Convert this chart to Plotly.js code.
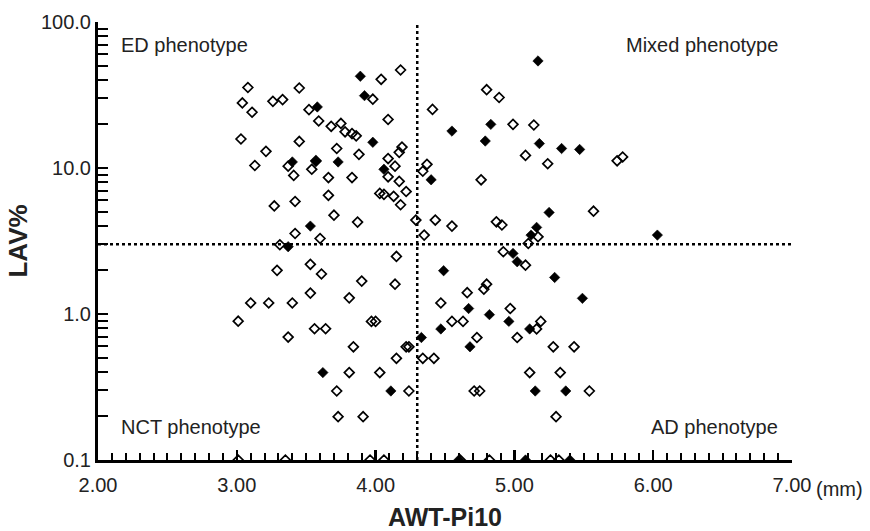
<!DOCTYPE html>
<html>
<head>
<meta charset="utf-8">
<script src="https://cdn.plot.ly/plotly-3.0.1.min.js"></script>
<style>html,body{margin:0;padding:0;background:#fff;}#chart{width:870px;height:531px;}</style>
</head>
<body>
<div id="chart"></div>
<script>
// Open diamonds: AWT-Pi10 (mm) and LAV%
const openX = [3.08,3.45,3.04,3.11,3.26,3.33,3.52,3.59,3.68,3.03,3.45,3.21,3.13,3.37,3.41,3.57,3.54,3.72,3.66,3.66,3.27,3.42,3.70,3.42,3.60,
  4.04,4.18,3.98,4.41,4.09,3.75,3.78,3.83,3.86,3.88,4.19,4.17,4.09,4.14,4.09,4.17,4.22,4.06,4.03,4.13,4.18,3.83,3.87,4.29,4.35,4.43,4.55,4.37,4.34,
  4.76,4.80,4.89,4.99,5.14,5.08,5.24,4.87,4.91,5.17,5.74,5.78,5.57,
  3.31,3.53,3.29,3.61,3.53,3.10,3.23,3.40,3.01,3.56,3.64,3.37,3.72,3.73,3.01,3.35,
  5.10,4.92,5.08,4.15,3.90,4.14,3.81,4.66,4.80,4.78,4.47,4.97,3.97,4.00,4.55,4.63,5.16,5.19,3.84,4.22,4.24,4.73,5.02,5.28,
  4.15,4.34,4.42,3.81,4.03,5.11,5.33,4.24,4.71,4.75,3.91,5.30,3.96,4.06,4.61,4.82,5.26,5.32,5.43,5.54];
const openY = [35.6,35.3,27.9,24.1,28.6,29.4,25.1,21.0,19.3,15.8,15.2,13.0,10.4,10.3,8.9,11.2,9.8,13.6,8.6,6.5,5.5,5.9,4.75,3.56,3.29,
  40.5,46.9,29.6,25.2,21.5,20.2,17.7,17.2,16.6,12.4,13.9,12.8,11.6,10.3,8.7,8.1,6.9,6.6,6.7,6.4,5.6,8.6,4.26,4.4,3.47,4.4,4.0,10.6,9.5,
  8.3,34.4,30.4,19.9,19.7,12.2,10.7,4.28,4.07,3.38,11.2,11.9,5.06,
  2.98,2.19,1.99,1.88,1.39,1.19,1.19,1.19,0.893,0.793,0.793,0.695,0.297,0.198,0.1,0.1,
  3.04,2.67,2.16,2.48,1.68,1.6,1.29,1.4,1.6,1.48,1.19,1.09,0.89,0.89,0.89,0.89,0.79,0.89,0.596,0.596,0.596,0.69,0.69,0.596,
  0.497,0.497,0.497,0.397,0.397,0.397,0.397,0.297,0.297,0.297,0.198,0.198,0.1,0.1,0.1,0.1,0.1,0.1,0.596,0.297];
// Filled diamonds
const filledX = [3.58,3.40,3.57,3.73,3.53,3.89,3.92,3.98,4.06,4.40,4.55,4.83,4.79,5.17,5.18,5.34,5.25,5.16,5.12,5.47,6.03,
  3.37,3.62,4.99,5.02,4.49,5.29,4.67,4.82,4.96,4.47,5.11,4.33,4.68,4.11,5.15,5.37,4.60,5.08,5.40,5.49];
const filledY = [26.2,11.0,11.1,11.0,4.0,42.5,31.3,15.0,9.8,8.3,17.9,19.9,15.3,54.1,14.7,13.6,4.96,3.92,3.47,13.4,3.47,
  2.89,0.397,2.6,2.28,1.98,1.78,1.09,0.99,0.89,0.79,0.79,0.69,0.596,0.297,0.297,0.297,0.1,0.1,0.1,1.28];
// Cut-offs
const awtCut = [4.3];
const lavCut = [3.0];
// Tick labels
const xTickVals = [2,3,4,5,6,7];
const xTickText = ['2.00','3.00','4.00','5.00','6.00','7.00'];
const yTickVals = [0.1,1,10,100];
const yTickText = ['0.1','1.0','10.0','100.0'];
const quadrantLabels = ['ED phenotype','Mixed phenotype','NCT phenotype','AD phenotype'];

const FONT = 'Arial, "Liberation Sans", sans-serif';

const traces = [
  {x: openX, y: openY, type: 'scatter', mode: 'markers',
   marker: {symbol: 'diamond-open', size: 7.5, color: '#000', line: {width: 1.7, color: '#000'}}},
  {x: filledX, y: filledY, type: 'scatter', mode: 'markers',
   marker: {symbol: 'diamond', size: 8, color: '#000', line: {width: 0.6, color: '#000'}}}
];

const layout = {
  width: 870, height: 531,
  margin: {l: 98, r: 78, t: 22, b: 71},
  showlegend: false,
  font: {family: FONT, size: 20},
  xaxis: {
    range: [2, 7], tickmode: 'array', tickvals: xTickVals, ticktext: xTickText,
    ticks: 'inside', ticklen: 10, tickwidth: 2.5, tickcolor: '#000', ticklabelstandoff: 5,
    minor: {tick0: 2, dtick: 0.1, ticks: 'inside', ticklen: 7, tickwidth: 2, tickcolor: '#000'},
    showline: true, linewidth: 3, linecolor: '#000', showgrid: false, zeroline: false,
    tickfont: {size: 20, color: '#222'},
    title: {text: '<b>AWT-Pi10</b>', font: {size: 25, color: '#222'}, standoff: 19}
  },
  yaxis: {
    type: 'log', range: [-1, 2], tickmode: 'array', tickvals: yTickVals, ticktext: yTickText,
    ticks: 'inside', ticklen: 10, tickwidth: 2.5, tickcolor: '#000',
    minor: {dtick: 'D1', ticks: 'inside', ticklen: 10, tickwidth: 2.2, tickcolor: '#000'},
    showline: true, linewidth: 3, linecolor: '#000', showgrid: false, zeroline: false,
    tickfont: {size: 20, color: '#222'},
    title: {text: '<b>LAV%</b>', font: {size: 26, color: '#222'}, standoff: 6}
  },
  shapes: [
    {type: 'line', xref: 'x', yref: 'paper', x0: awtCut[0], x1: awtCut[0], y0: 0, y1: 1,
     line: {color: '#000', width: 2.5, dash: 'dot'}},
    {type: 'line', xref: 'paper', yref: 'y', x0: 0, x1: 1, y0: lavCut[0], y1: lavCut[0],
     line: {color: '#000', width: 2.5, dash: 'dot'}}
  ],
  annotations: [
    {xref: 'paper', yref: 'paper', x: 0.03, y: 0.947, xanchor: 'left', yanchor: 'middle', text: quadrantLabels[0], showarrow: false, font: {size: 20, color: '#222'}},
    {xref: 'paper', yref: 'paper', x: 0.983, y: 0.947, xanchor: 'right', yanchor: 'middle', text: quadrantLabels[1], showarrow: false, font: {size: 20, color: '#222'}},
    {xref: 'paper', yref: 'paper', x: 0.03, y: 0.075, xanchor: 'left', yanchor: 'middle', text: quadrantLabels[2], showarrow: false, font: {size: 20, color: '#222'}},
    {xref: 'paper', yref: 'paper', x: 0.983, y: 0.075, xanchor: 'right', yanchor: 'middle', text: quadrantLabels[3], showarrow: false, font: {size: 20, color: '#222'}},
    {xref: 'paper', yref: 'paper', x: 1, y: 0, xanchor: 'left', yanchor: 'top', xshift: 22, yshift: -16, text: '(mm)', showarrow: false, font: {size: 20, color: '#222'}}
  ]
};

Plotly.newPlot('chart', traces, layout, {staticPlot: true, displayModeBar: false});
</script>
</body>
</html>
